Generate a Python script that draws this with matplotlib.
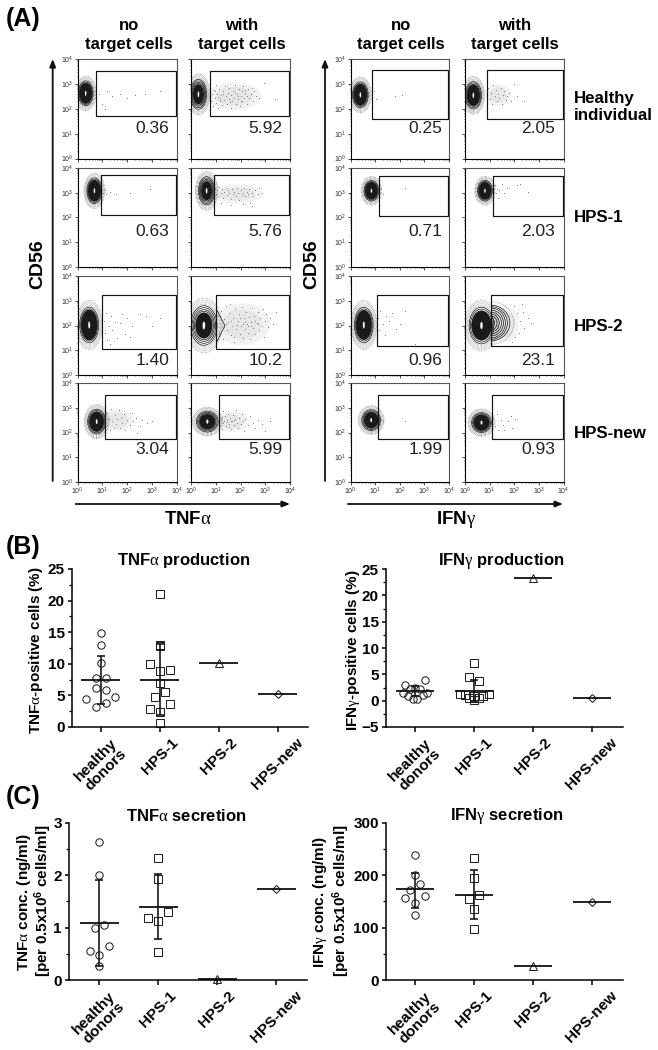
import matplotlib
matplotlib.use('Agg')
import numpy as np
from matplotlib import pyplot as plt
from matplotlib.patches import Ellipse, Rectangle, Arc

plt.rcParams['font.family'] = ['Liberation Sans', 'DejaVu Sans']
plt.rcParams['mathtext.fontset'] = 'custom'
plt.rcParams['mathtext.rm'] = 'Liberation Serif'
plt.rcParams['mathtext.bf'] = 'Liberation Sans:bold'

W, H = 658, 1050

# flow panels, row by row: no target / with target TNFa, no target / with target IFNg
percents = ['0.36', '5.92', '0.25', '2.05',
            '0.63', '5.76', '0.71', '2.03',
            '1.40', '10.2', '0.96', '23.1',
            '3.04', '5.99', '1.99', '0.93']
gate_left = [0.76, 0.75, 0.89, 0.90,
             0.95, 0.94, 1.16, 1.14,
             1.00, 1.00, 1.08, 1.06,
             1.12, 1.12, 1.10, 1.08]
gate_top = [3.50, 3.50, 3.57, 3.57,
            3.70, 3.70, 3.68, 3.68,
            3.23, 3.23, 3.23, 3.23,
            3.50, 3.50, 3.50, 3.50]
gate_bottom = [1.72, 1.72, 1.57, 1.57,
               2.10, 2.10, 2.08, 2.08,
               1.04, 1.04, 1.17, 1.17,
               1.72, 1.72, 1.72, 1.72]
blob_x = [0.33, 0.30, 0.40, 0.34,
          0.68, 0.63, 0.85, 0.81,
          0.47, 0.52, 0.54, 0.67,
          0.77, 0.66, 0.84, 0.67]
blob_y = [2.62, 2.58, 2.56, 2.54,
          3.08, 3.08, 3.08, 3.08,
          2.02, 2.00, 2.02, 2.00,
          2.44, 2.44, 2.50, 2.40]
blob_rx = [0.30, 0.33, 0.32, 0.33,
           0.30, 0.33, 0.30, 0.30,
           0.38, 0.53, 0.38, 0.50,
           0.36, 0.44, 0.38, 0.40]
blob_ry = [0.50, 0.60, 0.52, 0.55,
           0.52, 0.57, 0.42, 0.42,
           0.72, 0.80, 0.72, 0.74,
           0.50, 0.42, 0.42, 0.40]
core_scale = [0.84, 0.68, 0.84, 0.78,
              0.84, 0.68, 0.84, 0.84,
              0.86, 0.66, 0.84, 0.80,
              0.80, 0.72, 0.76, 0.80]

# pale density under the dot clouds: panel, centre x, centre y, radius x, radius y
cloud_panel = [1, 3, 5, 9, 12, 13, 11]
cloud_x = [1.75, 1.35, 1.85, 2.05, 1.60, 1.65, 1.65]
cloud_y = [2.50, 2.55, 2.95, 2.05, 2.50, 2.45, 2.05]
cloud_rx = [1.10, 0.50, 1.05, 1.15, 0.65, 0.70, 0.55]
cloud_ry = [0.55, 0.45, 0.38, 0.85, 0.45, 0.42, 0.75]

nose_r3c2 = [(1.04, 2.62), (1.37, 2.00), (1.04, 1.33)]
lobe_rx = [0.14, 0.24, 0.33, 0.42, 0.50, 0.58, 0.66, 0.76]
lobe_ry = [0.20, 0.28, 0.36, 0.44, 0.52, 0.60, 0.66, 0.72]

dots = [
    # row 1
    [(0.85, 2.6), (1.0, 2.2), (1.2, 2.7), (1.4, 2.5), (1.7, 2.6), (2.0, 2.45), (2.3, 2.55), (2.7, 2.6), (3.3, 2.7), (1.1, 2.0)],
    [(.78, 2.9), (.82, 2.3), (.85, 2.6), (.88, 2.1), (.92, 2.75), (.95, 2.45), (1.0, 2.95), (1.02, 2.25), (1.05, 2.6), (1.1, 2.05),
     (1.12, 2.8), (1.16, 2.4), (1.2, 2.55), (1.24, 2.15), (1.28, 2.7), (1.32, 2.35), (1.36, 2.9), (1.4, 2.5), (1.44, 2.2), (1.48, 2.65),
     (1.52, 2.4), (1.55, 2.82), (1.6, 2.05), (1.62, 2.55), (1.66, 2.3), (1.7, 2.72), (1.74, 2.45), (1.78, 2.95), (1.82, 2.2), (1.85, 2.6),
     (1.9, 2.38), (1.93, 2.8), (1.97, 2.12), (2.0, 2.5), (2.05, 2.7), (2.08, 2.3), (2.12, 2.9), (2.16, 2.45), (2.2, 2.62), (2.25, 2.2),
     (2.3, 2.78), (2.35, 2.42), (2.42, 2.58), (2.5, 2.3), (2.56, 2.72), (2.64, 2.5), (2.75, 2.42), (2.95, 3.05), (3.4, 2.4), (1.08, 2.48),
     (1.3, 2.58), (1.58, 2.28), (1.76, 2.62), (1.88, 2.5), (2.02, 2.33), (2.18, 2.75), (2.28, 2.52), (2.46, 2.82), (.98, 2.7), (1.18, 2.32)],
    [(0.95, 2.7), (1.05, 2.4), (1.8, 2.5), (2.1, 2.55)],
    [(.95, 2.85), (1.0, 2.4), (1.05, 2.65), (1.1, 2.2), (1.15, 2.95), (1.2, 2.5), (1.25, 2.75), (1.3, 2.3), (1.35, 2.6), (1.4, 2.45),
     (1.45, 2.85), (1.5, 2.2), (1.55, 2.55), (1.6, 2.7), (1.65, 2.35), (1.72, 2.5), (1.8, 2.65), (1.85, 2.3), (2.1, 2.5), (2.4, 2.3), (2.0, 3.0)],
    # row 2
    [(1.0, 3.0), (1.15, 2.95), (1.3, 3.05), (1.55, 2.95), (2.1, 3.0), (2.9, 3.15), (1.1, 3.12)],
    [(.98, 3.2), (1.02, 2.95), (1.06, 3.1), (1.1, 2.85), (1.15, 3.25), (1.2, 3.0), (1.25, 3.15), (1.3, 2.8), (1.35, 3.05), (1.4, 3.2),
     (1.45, 2.9), (1.5, 3.1), (1.55, 3.0), (1.6, 2.75), (1.65, 3.15), (1.7, 2.95), (1.75, 3.05), (1.8, 2.85), (1.85, 3.2), (1.9, 3.0),
     (1.95, 2.7), (2.0, 3.1), (2.05, 2.9), (2.1, 3.0), (2.15, 3.2), (2.2, 2.85), (2.25, 3.05), (2.3, 2.95), (2.35, 3.15), (2.4, 2.6),
     (2.45, 3.0), (2.5, 2.85), (2.6, 3.1), (2.7, 2.95), (2.75, 3.2), (2.1, 2.55), (1.6, 2.5), (1.2, 2.6), (2.85, 3.0), (2.45, 2.45)],
    [(1.25, 3.2), (2.2, 3.2), (1.3, 2.95)],
    [(1.2, 3.3), (1.25, 3.0), (1.3, 3.15), (1.35, 2.8), (1.4, 3.1), (1.5, 3.35), (1.6, 3.0), (1.7, 3.2), (2.1, 3.3), (2.25, 3.35), (2.55, 3.05)],
    # row 3
    [(1.05, 2.2), (1.1, 1.7), (1.15, 2.5), (1.2, 1.4), (1.25, 2.0), (1.35, 2.4), (1.4, 1.8), (1.5, 2.15), (1.6, 1.5), (1.7, 2.1),
     (1.8, 2.45), (1.9, 1.65), (2.0, 2.3), (2.1, 1.55), (2.2, 2.0), (2.5, 2.45), (2.75, 2.4), (3.3, 2.3), (3.0, 2.0), (1.3, 1.25)],
    [(1.1, 2.4), (1.15, 1.7), (1.2, 2.6), (1.25, 2.0), (1.3, 1.45), (1.35, 2.25), (1.4, 2.8), (1.45, 1.8), (1.5, 2.15), (1.55, 2.5),
     (1.6, 1.6), (1.65, 2.0), (1.7, 2.3), (1.72, 1.35), (1.78, 2.65), (1.82, 1.85), (1.88, 2.2), (1.92, 2.45), (1.96, 1.65), (2.0, 2.0),
     (2.05, 2.75), (2.1, 1.5), (2.14, 2.3), (2.18, 1.85), (2.22, 2.55), (2.26, 2.05), (2.3, 1.7), (2.35, 2.35), (2.4, 1.45), (2.44, 2.15),
     (2.48, 2.7), (2.52, 1.9), (2.56, 2.4), (2.6, 1.65), (2.65, 2.1), (2.7, 2.55), (2.75, 1.8), (2.8, 2.3), (2.85, 2.0), (2.9, 2.65),
     (2.95, 1.55), (3.0, 2.2), (3.05, 2.45), (3.1, 1.95), (3.2, 2.3), (3.3, 2.05), (3.45, 2.55), (1.58, 2.88), (1.75, 1.55), (2.12, 2.05),
     (1.32, 1.95), (1.42, 2.05), (1.62, 2.2), (1.84, 2.02), (1.98, 2.3), (2.2, 2.15), (2.32, 1.98), (2.42, 2.0), (2.58, 2.2), (2.72, 2.05)],
    [(1.1, 2.3), (1.15, 1.8), (1.2, 2.6), (1.3, 2.05), (1.4, 1.6), (1.45, 2.4), (1.55, 2.2), (1.7, 2.5), (1.85, 1.85), (2.0, 2.05), (2.2, 2.6), (2.6, 1.25)],
    [(2.0, 2.8), (2.1, 2.5), (2.2, 1.7), (2.25, 2.2), (2.35, 2.55), (2.4, 1.9), (2.55, 2.3), (2.7, 2.1), (2.3, 2.85), (1.9, 1.35), (2.05, 1.55)],
    # row 4
    [(1.15, 2.8), (1.2, 2.3), (1.25, 2.55), (1.3, 2.1), (1.35, 2.95), (1.4, 2.45), (1.45, 2.2), (1.5, 2.7), (1.55, 2.35), (1.6, 2.55),
     (1.65, 2.9), (1.7, 2.2), (1.75, 2.6), (1.8, 2.4), (1.85, 2.75), (1.9, 2.1), (2.0, 2.5), (2.1, 2.3), (2.2, 2.8), (2.25, 2.45),
     (2.35, 2.6), (2.5, 2.25), (2.6, 2.5), (2.8, 2.4), (3.0, 2.45), (2.4, 2.0)],
    [(1.15, 2.75), (1.18, 2.3), (1.22, 2.55), (1.26, 2.15), (1.3, 2.85), (1.34, 2.45), (1.38, 2.65), (1.42, 2.25), (1.46, 2.5), (1.5, 2.75),
     (1.54, 2.35), (1.58, 2.6), (1.62, 2.15), (1.66, 2.45), (1.7, 2.7), (1.74, 2.3), (1.78, 2.55), (1.82, 2.9), (1.86, 2.4), (1.9, 2.2),
     (1.95, 2.6), (2.0, 2.35), (2.05, 2.75), (2.1, 2.45), (2.15, 2.05), (2.2, 2.55), (2.3, 2.3), (2.4, 2.65), (2.5, 2.4), (2.6, 2.2),
     (2.7, 2.5), (2.85, 2.35), (3.0, 2.05), (3.2, 2.45), (1.3, 2.4), (1.44, 2.42), (1.6, 2.45), (1.72, 2.5), (1.25, 2.62), (1.52, 2.22)],
    [(1.15, 2.7), (1.2, 2.3), (1.25, 2.55), (1.3, 2.45), (2.2, 2.45)],
    [(1.12, 2.6), (1.2, 2.25), (1.3, 2.75), (1.35, 2.1), (1.45, 2.5), (1.55, 2.3), (1.6, 2.1), (1.75, 2.45), (1.85, 2.65), (1.9, 2.2), (2.05, 2.55)],
]

categories = ['healthy\ndonors', 'HPS-1', 'HPS-2', 'HPS-new']

tnf_prod_healthy = [14.9, 13.0, 10.1, 7.7, 7.8, 6.1, 5.9, 4.5, 4.7, 3.2, 3.8]
tnf_prod_healthy_off = [0, 0, 0, -.085, .085, -.085, .085, -.25, .25, -.085, .085]
tnf_prod_hps1 = [21.1, 13.0, 12.8, 9.9, 8.8, 9.0, 6.9, 5.6, 4.7, 3.6, 2.8, 2.4, 0.7]
tnf_prod_hps1_off = [0, 0, 0, -.17, 0, .17, 0, .085, -.085, .17, -.17, 0, 0]
tnf_prod_single = [10.2, 5.2]
tnf_prod_mean = [7.5, 7.4, 10.2, 5.2]
tnf_prod_err_low = [3.6, 1.9]
tnf_prod_err_high = [11.3, 13.1]

ifn_prod_healthy = [3.9, 2.9, 2.5, 2.3, 2.3, 1.4, 1.4, 0.8, 1.0, 0.4, 0.4]
ifn_prod_healthy_off = [.17, -.17, 0, -.085, .085, -.21, .21, -.125, .13, -.04, .04]
ifn_prod_hps1 = [7.2, 4.4, 3.8, 1.3, 1.0, 0.6, 0.2, 0.5, 0.9, 1.3, 0.9]
ifn_prod_hps1_off = [0, -.085, .085, -.24, -.15, -.08, 0, .08, .16, .25, 0]
ifn_prod_single = [23.2, 0.6]
ifn_prod_mean = [1.8, 1.9, 23.2, 0.6]
ifn_prod_err_low = [0.9, -0.3]
ifn_prod_err_high = [2.7, 3.9]

tnf_sec_healthy = [2.63, 2.0, 1.04, 1.0, 0.65, 0.55, 0.48, 0.27]
tnf_sec_healthy_off = [0, 0, .085, -.08, .17, -.165, 0, 0]
tnf_sec_hps1 = [2.32, 1.92, 1.3, 1.19, 1.12, 0.53]
tnf_sec_hps1_off = [0, 0, .165, -.17, 0, 0]
tnf_sec_single = [0.02, 1.73]
tnf_sec_mean = [1.08, 1.40, 0.02, 1.73]
tnf_sec_err_low = [0.27, 0.78]
tnf_sec_err_high = [1.9, 2.03]

ifn_sec_healthy = [238, 201, 183, 172, 157, 160, 147, 124]
ifn_sec_healthy_off = [0, 0, .08, -.09, -.17, .17, 0, 0]
ifn_sec_hps1 = [233, 195, 163, 155, 135, 97]
ifn_sec_hps1_off = [0, 0, .085, -.08, 0, 0]
ifn_sec_single = [27, 149]
ifn_sec_mean = [173, 163, 27, 149]
ifn_sec_err_low = [138, 116]
ifn_sec_err_high = [205, 210]


def px_axes(left, top, right, bottom):
    return fig.add_axes([left / W, 1 - bottom / H, (right - left) / W, (bottom - top) / H])


def px_text(x, y, s, **kw):
    return fig.text(x / W, 1 - y / H, s, **kw)


def decade_ticks(axis):
    axis.set_ticks(range(5))
    minor = [np.log10(k) + d for d in range(4) for k in range(2, 10)]
    axis.set_ticks(minor, minor=True)


def flow_panel(idx, left, top, right, bottom, ylabels, xlabels):
    ax = px_axes(left, top, right, bottom)
    ax.set_xlim(0, 4)
    ax.set_ylim(0, 4)
    decade_ticks(ax.xaxis)
    decade_ticks(ax.yaxis)
    ax.tick_params(which='major', length=2, width=0.6, labelsize=5, pad=1, colors='#333333')
    ax.tick_params(which='minor', length=1, width=0.4)
    dec = [r'$\mathregular{10^{%d}}$' % d for d in range(5)]
    ax.set_xticklabels(dec if xlabels else [])
    ax.set_yticklabels(dec if ylabels else [])
    for name in ['top', 'right']:
        ax.spines[name].set_color('#555555')
    for sp in ax.spines.values():
        sp.set_linewidth(0.8)

    if idx in cloud_panel:
        k = cloud_panel.index(idx)
        ax.add_patch(Ellipse((cloud_x[k], cloud_y[k]), 2 * cloud_rx[k], 2 * cloud_ry[k], fc='#f2f2f2', ec='none'))
        ax.add_patch(Ellipse((cloud_x[k], cloud_y[k]), 1.4 * cloud_rx[k], 1.4 * cloud_ry[k], fc='#e6e6e6', ec='none'))

    x, y = blob_x[idx], blob_y[idx]
    rx, ry = blob_rx[idx], blob_ry[idx]
    for s in [1.38, 1.28, 1.18, 1.08]:
        ax.add_patch(Ellipse((x, y), 2 * rx * s, 2 * ry * s, fill=False, ec='#666666',
                             lw=0.7, ls=(0, (0.4, 1.0))))
    for s in [1.0, 0.9, 0.8, 0.72]:
        ax.add_patch(Ellipse((x, y), 2 * rx * s, 2 * ry * s, fill=False, ec='#111111', lw=0.5))
    core = core_scale[idx]
    ax.add_patch(Ellipse((x, y), 2 * rx * core, 2 * ry * core, fc='#1a1a1a', ec='none'))
    ax.add_patch(Ellipse((x, y), 2 * rx * 0.1, 2 * ry * 0.2, fc='white', ec='none'))

    if idx == 9:
        ax.plot(*zip(*nose_r3c2), color='#111111', lw=0.5)
    if idx == 11:
        for a, b in zip(lobe_rx, lobe_ry):
            ax.add_patch(Arc((1.06, y + 0.1), 2 * a, 2 * b, theta1=-90, theta2=90, ec='#111111', lw=0.5))
        ax.add_patch(Arc((1.06, y + 0.1), 2 * 0.92, 2 * 0.86, theta1=-90, theta2=90, ec='#666666',
                         lw=0.7, ls=(0, (0.4, 1.0))))

    dx, dy = zip(*dots[idx])
    ax.scatter(dx, dy, s=0.55, c='#666666', linewidths=0, zorder=2)

    ax.add_patch(Rectangle((gate_left[idx], gate_bottom[idx]), 3.97 - gate_left[idx],
                           gate_top[idx] - gate_bottom[idx], fill=False, ec='#111111', lw=0.85, zorder=3))
    return ax


def scatter_panel(left, top, right, xcenter0, step, ylim, yticks, yminor, title, tx, ty,
                  healthy, healthy_off, hps1, hps1_off, single, mean, err_low, err_high, bottom):
    ax = px_axes(left, top, right, bottom)
    ax.set_xlim((left - xcenter0) / step, (right - xcenter0) / step)
    ax.set_ylim(*ylim)
    ax.plot(np.array(healthy_off), healthy, 'o', mfc='none', mec='#222222', mew=0.75, ms=5.3, ls='none')
    ax.plot(1 + np.array(hps1_off), hps1, 's', mfc='none', mec='#222222', mew=0.75, ms=5.2, ls='none')
    ax.plot([2], [single[0]], '^', mfc='none', mec='#222222', mew=0.75, ms=5.4, clip_on=False)
    ax.plot([3], [single[1]], 'D', mfc='none', mec='#222222', mew=0.75, ms=3.6)
    for i in range(2):
        ax.errorbar([i], [mean[i]], yerr=[[mean[i] - err_low[i]], [err_high[i] - mean[i]]],
                    color='#111111', elinewidth=1.15, capsize=2.8, capthick=1.15, ls='none')
    ax.hlines(mean, np.arange(4) - 0.33, np.arange(4) + 0.33, color='#111111', lw=1.3)
    for name in ['top', 'right']:
        ax.spines[name].set_visible(False)
    for name in ['left', 'bottom']:
        ax.spines[name].set_linewidth(1.1)
    ax.set_yticks(yticks)
    ax.set_yticks(yminor, minor=True)
    ax.set_xticks(range(4))
    ax.set_xticklabels(categories, rotation=45, ha='center', va='top', ma='center',
                       fontsize=11, fontweight='bold', linespacing=1.0)
    ax.tick_params(axis='y', which='major', length=3.2, width=1.1, labelsize=11, pad=2)
    ax.tick_params(axis='y', which='minor', length=2, width=0.9)
    ax.tick_params(axis='x', length=3.4, width=1.1, pad=3)
    for lab in ax.get_yticklabels():
        lab.set_fontweight('bold')
    px_text(tx, ty, title, ha='center', va='center', fontsize=12, fontweight='bold')
    return ax


fig = plt.figure(figsize=(W / 100, H / 100), dpi=100)

col_edges = [(77.5, 177), (191, 290), (350.5, 449), (465, 563.5)]
row_edges = [(59, 158.5), (168, 267), (276, 375), (383, 482)]
col_right = [169, 282, 442.5, 555]
row_num = [128, 231.5, 360.5, 450]

for r, (top, bottom) in enumerate(row_edges):
    for c, (left, right) in enumerate(col_edges):
        idx = r * 4 + c
        flow_panel(idx, left, top, right, bottom, c in (0, 2), r == 3)
        px_text(col_right[c], row_num[r], percents[idx], ha='right', va='center',
                fontsize=12.5, color='#222222')

# headers of panel A
for xc, first in zip([129, 242, 401, 515], ['no', 'with', 'no', 'with']):
    px_text(xc, 25, first, ha='center', va='center', fontsize=12, fontweight='bold')
    px_text(xc, 44, 'target cells', ha='center', va='center', fontsize=12, fontweight='bold')

row_names = ['Healthy\nindividual', 'HPS-1', 'HPS-2', 'HPS-new']
row_name_y = [107, 218, 326.5, 434]
for name, y in zip(row_names, row_name_y):
    px_text(574, y, name, ha='left', va='center', fontsize=12.2, fontweight='bold', linespacing=1.15)

for x in [38, 311.5]:
    px_text(x, 264, 'CD56', rotation=90, ha='center', va='center', fontsize=14, fontweight='bold')
px_text(188, 520, r'TNF$\mathrm{\alpha}$', ha='center', va='center', fontsize=13.5, fontweight='bold')
px_text(456, 520, r'IFN$\mathrm{\gamma}$', ha='center', va='center', fontsize=13.5, fontweight='bold')

# long arrows along the plots
overlay = fig.add_axes([0, 0, 1, 1])
overlay.set_xlim(0, W)
overlay.set_ylim(H, 0)
overlay.axis('off')
overlay.patch.set_alpha(0)
arrow = dict(arrowstyle='-|>,head_length=0.45,head_width=0.18', color='#111111', lw=1.3, shrinkA=0, shrinkB=0)
for x in [52.7, 325]:
    overlay.annotate('', xy=(x, 59), xytext=(x, 481), arrowprops=arrow)
overlay.annotate('', xy=(290, 504), xytext=(75.7, 504), arrowprops=arrow)
overlay.annotate('', xy=(563, 504), xytext=(348, 504), arrowprops=arrow)

for y, s in zip([19, 547, 797], ['(A)', '(B)', '(C)']):
    px_text(6, y, s, ha='left', va='center', fontsize=18, fontweight='bold')

# panel B
scatter_panel(72, 569, 308, 100.7, 59, (0, 25), [0, 5, 10, 15, 20, 25], [2.5, 7.5, 12.5, 17.5, 22.5],
              r'TNF$\mathrm{\alpha}$ production', 184, 561,
              tnf_prod_healthy, tnf_prod_healthy_off, tnf_prod_hps1, tnf_prod_hps1_off,
              tnf_prod_single, tnf_prod_mean, tnf_prod_err_low, tnf_prod_err_high, 727)
scatter_panel(386, 569, 623, 415, 59, (-5, 25), [-5, 0, 5, 10, 15, 20, 25], [-2.5, 2.5, 7.5, 12.5, 17.5, 22.5],
              r'IFN$\mathrm{\gamma}$ production', 501.5, 561,
              ifn_prod_healthy, ifn_prod_healthy_off, ifn_prod_hps1, ifn_prod_hps1_off,
              ifn_prod_single, ifn_prod_mean, ifn_prod_err_low, ifn_prod_err_high, 727)
px_text(36.5, 650, r'TNF$\mathrm{\alpha}$-positive cells (%)', rotation=90, ha='center', va='center',
        fontsize=11, fontweight='bold')
px_text(353.5, 650, r'IFN$\mathrm{\gamma}$-positive cells (%)', rotation=90, ha='center', va='center',
        fontsize=11, fontweight='bold')

# panel C
scatter_panel(69, 822.7, 307, 99.3, 59, (0, 3), [0, 1, 2, 3], [0.5, 1.5, 2.5],
              r'TNF$\mathrm{\alpha}$ secretion', 186, 816,
              tnf_sec_healthy, tnf_sec_healthy_off, tnf_sec_hps1, tnf_sec_hps1_off,
              tnf_sec_single, tnf_sec_mean, tnf_sec_err_low, tnf_sec_err_high, 980)
scatter_panel(386, 822.7, 623, 415, 59, (0, 300), [0, 100, 200, 300], [50, 150, 250],
              r'IFN$\mathrm{\gamma}$ secretion', 506.5, 816,
              ifn_sec_healthy, ifn_sec_healthy_off, ifn_sec_hps1, ifn_sec_hps1_off,
              ifn_sec_single, ifn_sec_mean, ifn_sec_err_low, ifn_sec_err_high, 980)
px_text(24, 902, r'TNF$\mathrm{\alpha}$ conc. (ng/ml)', rotation=90, ha='center', va='center',
        fontsize=11, fontweight='bold')
px_text(43, 901, r'[per 0.5x10$\mathbf{^6}$ cells/ml]', rotation=90, ha='center', va='center',
        fontsize=11, fontweight='bold')
px_text(320, 902, r'IFN$\mathrm{\gamma}$ conc. (ng/ml)', rotation=90, ha='center', va='center',
        fontsize=11, fontweight='bold')
px_text(341, 901, r'[per 0.5x10$\mathbf{^6}$ cells/ml]', rotation=90, ha='center', va='center',
        fontsize=11, fontweight='bold')

fig.savefig('out.png', dpi=100)
